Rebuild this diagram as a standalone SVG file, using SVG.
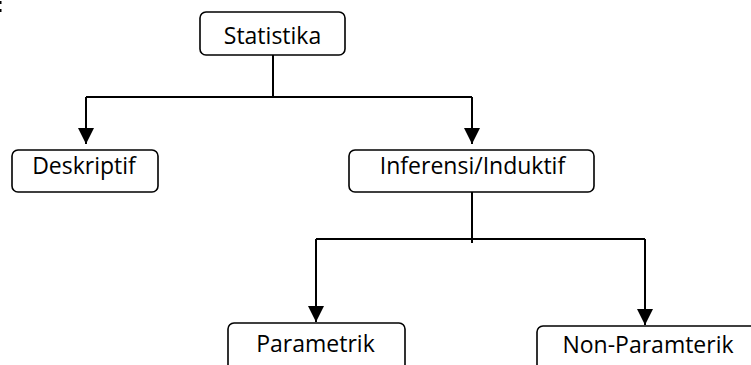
<svg xmlns="http://www.w3.org/2000/svg" width="751" height="365" viewBox="0 0 751 365">
<style>
.box{fill:#fff;stroke:#000;stroke-width:1.6}
.lbl{font-family:"Open Sans","Noto Sans","Liberation Sans",sans-serif;font-size:23px;fill:#000;text-anchor:middle}
.ln{fill:none;stroke:#000;stroke-width:2}
</style>
<defs>
<marker id="ah" markerUnits="userSpaceOnUse" markerWidth="16" markerHeight="16" refX="16" refY="8" orient="auto">
<path d="M0,0 L16,8 L0,16 z" fill="#000"/>
</marker>
</defs>
<rect width="751" height="365" fill="#fff"/>
<rect x="0" y="1" width="1.5" height="3" fill="#000"/>
<rect x="0" y="9" width="1.5" height="3" fill="#000"/>
<g id="connectors">
<path class="ln" d="M273,55 V97"/>
<path class="ln" d="M86,97 H472"/>
<path class="ln" d="M86,97 V144" marker-end="url(#ah)"/>
<path class="ln" d="M472,97 V144" marker-end="url(#ah)"/>
<path class="ln" d="M472,192 V243"/>
<path class="ln" d="M316,239 H645"/>
<path class="ln" d="M316,239 V322" marker-end="url(#ah)"/>
<path class="ln" d="M645,239 V325" marker-end="url(#ah)"/>
</g>
<g id="statistika">
<rect class="box" x="200" y="12" width="145" height="43" rx="6"/>
<text class="lbl" x="272.5" y="44">Statistika</text>
</g>
<g id="deskriptif">
<rect class="box" x="12" y="150" width="146" height="42" rx="6"/>
<text class="lbl" x="84" y="174">Deskriptif</text>
</g>
<g id="inferensi">
<rect class="box" x="349" y="150" width="245" height="42" rx="6"/>
<text class="lbl" x="472.5" y="174">Inferensi/Induktif</text>
</g>
<g id="parametrik">
<rect class="box" x="228" y="323" width="177" height="60" rx="6"/>
<text class="lbl" x="315.5" y="352">Parametrik</text>
</g>
<g id="nonparametrik">
<rect class="box" x="537" y="326" width="230" height="60" rx="6"/>
<text class="lbl" x="648" y="353">Non-Paramterik</text>
</g>
</svg>
